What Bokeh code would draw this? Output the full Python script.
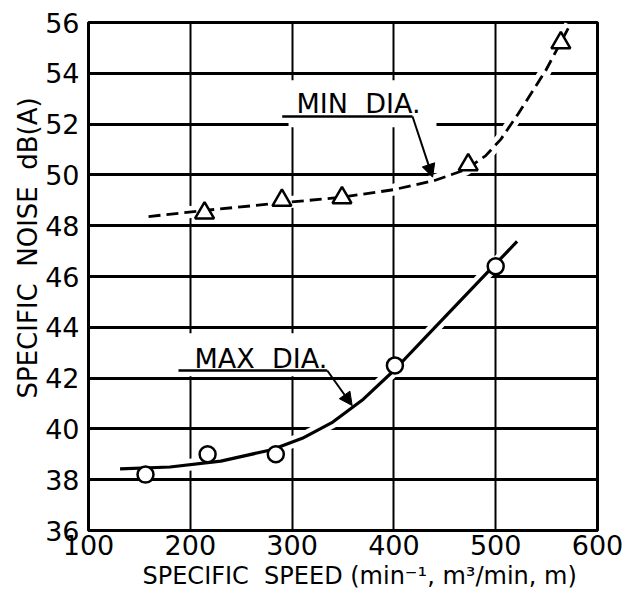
from bokeh.plotting import figure
from bokeh.models import Label, Arrow, NormalHead, FixedTicker, Range1d, Title
from bokeh.embed import file_html
from bokeh.resources import INLINE

# ---------------- data ----------------
x_ticks = [100, 200, 300, 400, 500, 600]
y_ticks = [36, 38, 40, 42, 44, 46, 48, 50, 52, 54, 56]

# measured points
min_dia_x = [214, 290, 349, 473, 564]
min_dia_y = [48.5, 49.0, 49.1, 50.4, 55.2]
max_dia_x = [156, 217, 284, 401, 500]
max_dia_y = [38.2, 39.0, 39.0, 42.5, 46.4]

# hand-drawn fitted curves
min_curve_x = [159, 214, 290, 349, 400, 440, 470, 490, 505, 522, 549, 573]
min_curve_y = [48.36, 48.6, 48.9, 49.12, 49.42, 49.78, 50.2, 50.75, 51.4, 52.4, 54.1, 55.9]
max_curve_x = [131, 180, 230, 280, 310, 340, 370, 400, 430, 460, 490, 521]
max_curve_y = [38.43, 38.50, 38.73, 39.18, 39.63, 40.27, 41.17, 42.3, 43.56, 44.82, 46.08, 47.38]

x_label = "SPECIFIC\u00a0\u00a0SPEED\u00a0(min\u207b\u00b9,\u00a0m\u00b3/min,\u00a0m)"
y_label = "SPECIFIC\u00a0\u00a0NOISE\u00a0\u00a0dB(A)"
min_label = "MIN\u00a0\u00a0DIA."
max_label = "MAX\u00a0\u00a0DIA."

FONT = "DejaVu Sans"

# ---------------- figure ----------------
p = figure(width=638, height=597, output_backend="svg", toolbar_location=None,
           x_range=Range1d(100, 600), y_range=Range1d(36, 56),
           min_border_left=88, min_border_right=41, min_border_top=22, min_border_bottom=67)
p.background_fill_color = "white"
p.border_fill_color = "white"
p.outline_line_color = "black"
p.outline_line_width = 3

for ax, ticks in ((p.xaxis, x_ticks), (p.yaxis, y_ticks)):
    ax.ticker = FixedTicker(ticks=ticks)
    ax.major_label_text_font = FONT
    ax.major_label_text_font_size = "27px"
    ax.major_label_text_color = "black"
    ax.major_tick_out = 0
    ax.major_tick_in = 0
    ax.minor_tick_out = 0
    ax.minor_tick_in = 0
    ax.axis_line_color = "black"
    ax.axis_line_width = 2
p.xaxis.major_label_standoff = 4
p.yaxis.major_label_standoff = 9

p.xgrid.ticker = FixedTicker(ticks=x_ticks)
p.ygrid.ticker = FixedTicker(ticks=y_ticks)
p.xgrid.grid_line_color = "black"
p.xgrid.grid_line_width = 2
p.ygrid.grid_line_color = "black"
p.ygrid.grid_line_width = 3

# white halos -> gaps in grid where curves cross
p.line(min_curve_x, min_curve_y, line_color="white", line_width=12)
p.line(max_curve_x, max_curve_y, line_color="white", line_width=12)

# curves
p.line(min_curve_x, min_curve_y, line_color="black", line_width=2.8, line_dash="12 6",
       line_join="round")
p.line(max_curve_x, max_curve_y, line_color="black", line_width=3.2, line_join="round")

# markers
p.scatter(min_dia_x, min_dia_y, marker="triangle", size=19, fill_color="white",
          line_color="black", line_width=2.5)
p.scatter(max_dia_x, max_dia_y, marker="circle", size=16, fill_color="white",
          line_color="black", line_width=2.5)

# annotation labels with white masks
p.add_layout(Label(x=296.5, y=52.80, text=min_label, text_font=FONT, text_font_size="27px",
                   text_baseline="alphabetic", text_color="black",
                   background_fill_color="white", padding=(8, 16, 8, 8)))
p.add_layout(Label(x=198.2, y=42.92, text=max_label, text_font=FONT, text_font_size="27px",
                   text_baseline="alphabetic", text_color="black",
                   background_fill_color="white", padding=(6, 22, 10, 2)))

# underlines and leaders
p.line([290.3, 418.3], [52.30, 52.30], line_color="black", line_width=2.5, level="overlay")
p.line([188.4, 334.5], [42.30, 42.30], line_color="black", line_width=2.5, level="overlay")
p.add_layout(Arrow(end=NormalHead(size=13, fill_color="black", line_color="black", line_width=1),
                   x_start=418.3, y_start=52.30, x_end=438, y_end=49.91,
                   line_width=2, line_color="black", level="overlay"))
p.add_layout(Arrow(end=NormalHead(size=13, fill_color="black", line_color="black", line_width=1),
                   x_start=334.5, y_start=42.30, x_end=359, y_end=40.92,
                   line_width=2, line_color="black", level="overlay"))

# axis titles (as side titles so they are not clipped to the frame)
p.add_layout(Title(text=x_label, align="left", offset=54, text_font=FONT,
                   text_font_size="24px", text_font_style="normal", text_color="black",
                   standoff=5), "below")
p.add_layout(Title(text=y_label, align="left", offset=132, text_font=FONT,
                   text_font_size="26px", text_font_style="normal", text_color="black",
                   standoff=0), "left")

open("out.html", "w").write(file_html(p, INLINE))
